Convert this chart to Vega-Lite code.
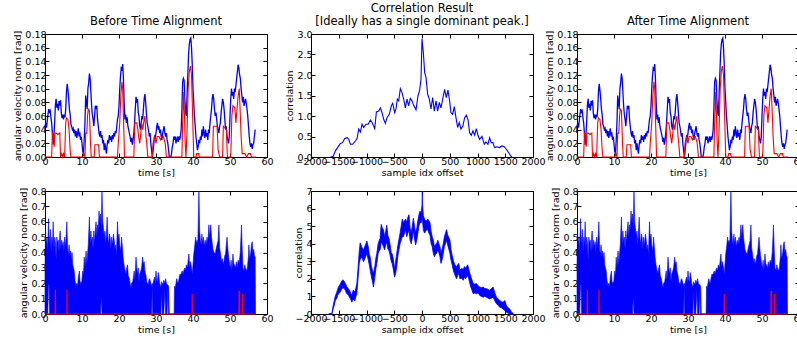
{
"$schema":"https://vega.github.io/schema/vega-lite/v6.json",
"padding":{"left":12,"top":2,"right":0,"bottom":0},
"background":"white",
"config":{
 "view":{"stroke":"black","strokeWidth":1},
 "axis":{"domain":false,"grid":false,"ticks":true,"tickColor":"black","tickSize":-4,"tickWidth":1,"labelColor":"black","labelFont":"DejaVu Sans","labelFontSize":9.5,"labelPadding":3,"labelFlush":false,"labelOverlap":false,"labelBound":false,"titleColor":"black","titleFont":"DejaVu Sans","titleFontSize":9.5,"titleFontWeight":"normal","titlePadding":2},
 "title":{"font":"DejaVu Sans","fontSize":11.5,"fontWeight":"normal","color":"black","offset":2,"anchor":"middle","lineHeight":12.5}
},
"datasets":{
"topBlue":[
{"t":0.0,"v":0.045},{"t":0.2,"v":0.05},{"t":0.4,"v":0.043},{"t":0.6,"v":0.052},{"t":0.8,"v":0.062},{"t":1.0,"v":0.07},{"t":1.2,"v":0.066},{"t":1.4,"v":0.068},{"t":1.6,"v":0.058},{"t":1.8,"v":0.05},{"t":2.0,"v":0.035},{"t":2.2,"v":0.018},{"t":2.4,"v":0.03},{"t":2.6,"v":0.05},{"t":2.8,"v":0.075},{"t":3.0,"v":0.085},{"t":3.2,"v":0.072},{"t":3.4,"v":0.078},{"t":3.6,"v":0.068},{"t":3.8,"v":0.082},{"t":4.0,"v":0.075},{"t":4.2,"v":0.083},{"t":4.4,"v":0.065},{"t":4.6,"v":0.057},{"t":4.8,"v":0.062},{"t":5.0,"v":0.055},{"t":5.2,"v":0.062},{"t":5.4,"v":0.058},{"t":5.6,"v":0.07},{"t":5.8,"v":0.095},{"t":6.0,"v":0.107},{"t":6.2,"v":0.098},{"t":6.4,"v":0.085},{"t":6.6,"v":0.07},{"t":6.8,"v":0.062},{"t":7.0,"v":0.048},{"t":7.2,"v":0.045},{"t":7.4,"v":0.04},{"t":7.6,"v":0.042},{"t":7.8,"v":0.035},{"t":8.0,"v":0.04},{"t":8.2,"v":0.03},{"t":8.4,"v":0.038},{"t":8.6,"v":0.028},{"t":8.8,"v":0.035},{"t":9.0,"v":0.042},{"t":9.2,"v":0.03},{"t":9.4,"v":0.036},{"t":9.6,"v":0.025},{"t":9.8,"v":0.03},{"t":10.0,"v":0.02},{"t":10.2,"v":0.008},{"t":10.4,"v":0.005},{"t":10.6,"v":0.025},{"t":10.8,"v":0.05},{"t":11.0,"v":0.09},{"t":11.2,"v":0.08},{"t":11.4,"v":0.07},{"t":11.6,"v":0.1},{"t":11.8,"v":0.108},{"t":12.0,"v":0.122},{"t":12.2,"v":0.115},{"t":12.4,"v":0.095},{"t":12.6,"v":0.075},{"t":12.8,"v":0.062},{"t":13.0,"v":0.055},{"t":13.2,"v":0.045},{"t":13.4,"v":0.06},{"t":13.6,"v":0.075},{"t":13.8,"v":0.07},{"t":14.0,"v":0.075},{"t":14.2,"v":0.055},{"t":14.4,"v":0.045},{"t":14.6,"v":0.035},{"t":14.8,"v":0.03},{"t":15.0,"v":0.038},{"t":15.2,"v":0.028},{"t":15.4,"v":0.032},{"t":15.6,"v":0.02},{"t":15.8,"v":0.025},{"t":16.0,"v":0.01},{"t":16.2,"v":0.02},{"t":16.4,"v":0.012},{"t":16.6,"v":0.005},{"t":16.8,"v":0.018},{"t":17.0,"v":0.025},{"t":17.2,"v":0.02},{"t":17.4,"v":0.032},{"t":17.6,"v":0.025},{"t":17.8,"v":0.03},{"t":18.0,"v":0.022},{"t":18.2,"v":0.032},{"t":18.4,"v":0.026},{"t":18.6,"v":0.035},{"t":18.8,"v":0.03},{"t":19.0,"v":0.038},{"t":19.2,"v":0.035},{"t":19.4,"v":0.045},{"t":19.6,"v":0.055},{"t":19.8,"v":0.06},{"t":20.0,"v":0.075},{"t":20.2,"v":0.1},{"t":20.4,"v":0.118},{"t":20.6,"v":0.13},{"t":20.8,"v":0.128},{"t":21.0,"v":0.136},{"t":21.2,"v":0.115},{"t":21.4,"v":0.08},{"t":21.6,"v":0.055},{"t":21.8,"v":0.062},{"t":22.0,"v":0.05},{"t":22.2,"v":0.058},{"t":22.4,"v":0.045},{"t":22.6,"v":0.04},{"t":22.8,"v":0.035},{"t":23.0,"v":0.03},{"t":23.2,"v":0.022},{"t":23.4,"v":0.028},{"t":23.6,"v":0.018},{"t":23.8,"v":0.025},{"t":24.0,"v":0.035},{"t":24.2,"v":0.05},{"t":24.4,"v":0.07},{"t":24.6,"v":0.088},{"t":24.8,"v":0.082},{"t":25.0,"v":0.085},{"t":25.2,"v":0.065},{"t":25.4,"v":0.06},{"t":25.6,"v":0.045},{"t":25.8,"v":0.04},{"t":26.0,"v":0.05},{"t":26.2,"v":0.06},{"t":26.4,"v":0.055},{"t":26.6,"v":0.07},{"t":26.8,"v":0.085},{"t":27.0,"v":0.092},{"t":27.2,"v":0.08},{"t":27.4,"v":0.065},{"t":27.6,"v":0.05},{"t":27.8,"v":0.045},{"t":28.0,"v":0.038},{"t":28.2,"v":0.03},{"t":28.4,"v":0.035},{"t":28.6,"v":0.02},{"t":28.8,"v":0.01},{"t":29.0,"v":0.0},{"t":29.2,"v":0.008},{"t":29.4,"v":0.02},{"t":29.6,"v":0.03},{"t":29.8,"v":0.028},{"t":30.0,"v":0.035},{"t":30.2,"v":0.045},{"t":30.4,"v":0.05},{"t":30.6,"v":0.04},{"t":30.8,"v":0.045},{"t":31.0,"v":0.035},{"t":31.2,"v":0.04},{"t":31.4,"v":0.03},{"t":31.6,"v":0.025},{"t":31.8,"v":0.035},{"t":32.0,"v":0.04},{"t":32.2,"v":0.045},{"t":32.4,"v":0.035},{"t":32.6,"v":0.03},{"t":32.8,"v":0.035},{"t":33.0,"v":0.025},{"t":33.2,"v":0.02},{"t":33.4,"v":0.01},{"t":33.6,"v":0.0},{"t":33.8,"v":0.0},{"t":34.0,"v":0.0},{"t":34.2,"v":0.005},{"t":34.4,"v":0.015},{"t":34.6,"v":0.02},{"t":34.8,"v":0.03},{"t":35.0,"v":0.025},{"t":35.2,"v":0.03},{"t":35.4,"v":0.02},{"t":35.6,"v":0.025},{"t":35.8,"v":0.03},{"t":36.0,"v":0.022},{"t":36.2,"v":0.03},{"t":36.4,"v":0.025},{"t":36.6,"v":0.03},{"t":36.8,"v":0.04},{"t":37.0,"v":0.07},{"t":37.2,"v":0.11},{"t":37.4,"v":0.115},{"t":37.6,"v":0.112},{"t":37.8,"v":0.085},{"t":38.0,"v":0.065},{"t":38.2,"v":0.06},{"t":38.4,"v":0.09},{"t":38.6,"v":0.12},{"t":38.8,"v":0.15},{"t":39.0,"v":0.165},{"t":39.2,"v":0.172},{"t":39.4,"v":0.174},{"t":39.6,"v":0.16},{"t":39.8,"v":0.135},{"t":40.0,"v":0.1},{"t":40.2,"v":0.08},{"t":40.4,"v":0.06},{"t":40.6,"v":0.045},{"t":40.8,"v":0.03},{"t":41.0,"v":0.02},{"t":41.2,"v":0.01},{"t":41.4,"v":0.015},{"t":41.6,"v":0.025},{"t":41.8,"v":0.02},{"t":42.0,"v":0.03},{"t":42.2,"v":0.025},{"t":42.4,"v":0.04},{"t":42.6,"v":0.03},{"t":42.8,"v":0.045},{"t":43.0,"v":0.035},{"t":43.2,"v":0.028},{"t":43.4,"v":0.04},{"t":43.6,"v":0.03},{"t":43.8,"v":0.035},{"t":44.0,"v":0.025},{"t":44.2,"v":0.04},{"t":44.4,"v":0.035},{"t":44.6,"v":0.05},{"t":44.8,"v":0.06},{"t":45.0,"v":0.07},{"t":45.2,"v":0.085},{"t":45.4,"v":0.092},{"t":45.6,"v":0.085},{"t":45.8,"v":0.07},{"t":46.0,"v":0.06},{"t":46.2,"v":0.065},{"t":46.4,"v":0.055},{"t":46.6,"v":0.045},{"t":46.8,"v":0.04},{"t":47.0,"v":0.035},{"t":47.2,"v":0.045},{"t":47.4,"v":0.05},{"t":47.6,"v":0.065},{"t":47.8,"v":0.075},{"t":48.0,"v":0.085},{"t":48.2,"v":0.08},{"t":48.4,"v":0.07},{"t":48.6,"v":0.055},{"t":48.8,"v":0.04},{"t":49.0,"v":0.045},{"t":49.2,"v":0.03},{"t":49.4,"v":0.025},{"t":49.6,"v":0.02},{"t":49.8,"v":0.03},{"t":50.0,"v":0.06},{"t":50.2,"v":0.085},{"t":50.4,"v":0.1},{"t":50.6,"v":0.09},{"t":50.8,"v":0.095},{"t":51.0,"v":0.085},{"t":51.2,"v":0.1},{"t":51.4,"v":0.095},{"t":51.6,"v":0.105},{"t":51.8,"v":0.115},{"t":52.0,"v":0.125},{"t":52.2,"v":0.135},{"t":52.4,"v":0.13},{"t":52.6,"v":0.12},{"t":52.8,"v":0.115},{"t":53.0,"v":0.1},{"t":53.2,"v":0.09},{"t":53.4,"v":0.08},{"t":53.6,"v":0.088},{"t":53.8,"v":0.075},{"t":54.0,"v":0.08},{"t":54.2,"v":0.085},{"t":54.4,"v":0.078},{"t":54.6,"v":0.07},{"t":54.8,"v":0.06},{"t":55.0,"v":0.045},{"t":55.2,"v":0.03},{"t":55.4,"v":0.02},{"t":55.6,"v":0.015},{"t":55.8,"v":0.02},{"t":56.0,"v":0.012},{"t":56.2,"v":0.018},{"t":56.4,"v":0.02},{"t":56.6,"v":0.03},{"t":56.8,"v":0.04}
],
"topRed":[
{"t":0,"v":0},{"t":1.8,"v":0},{"t":2.0,"v":0.035},{"t":2.3,"v":0.034},{"t":2.5,"v":0.015},{"t":2.7,"v":0.035},{"t":3.0,"v":0.035},{"t":3.5,"v":0.033},{"t":4.0,"v":0.035},{"t":4.2,"v":0.0},{"t":4.5,"v":0.005},{"t":4.8,"v":0.0},{"t":5.0,"v":0.005},{"t":5.3,"v":0.0},{"t":5.6,"v":0.05},{"t":5.8,"v":0.057},{"t":6.2,"v":0.055},{"t":6.5,"v":0.04},{"t":6.8,"v":0.01},{"t":7.0,"v":0.0},{"t":10.2,"v":0.0},{"t":10.5,"v":0.005},{"t":10.8,"v":0.0},{"t":11.0,"v":0.035},{"t":11.3,"v":0.035},{"t":11.5,"v":0.06},{"t":11.7,"v":0.07},{"t":12.0,"v":0.068},{"t":12.3,"v":0.02},{"t":12.5,"v":0.0},{"t":13.3,"v":0.0},{"t":13.5,"v":0.018},{"t":14.5,"v":0.018},{"t":14.7,"v":0.0},{"t":19.6,"v":0.0},{"t":19.8,"v":0.02},{"t":20.2,"v":0.05},{"t":20.5,"v":0.09},{"t":20.8,"v":0.11},{"t":21.0,"v":0.1},{"t":21.2,"v":0.06},{"t":21.5,"v":0.0},{"t":24.0,"v":0.0},{"t":24.3,"v":0.05},{"t":24.8,"v":0.05},{"t":25.1,"v":0.04},{"t":25.3,"v":0.03},{"t":25.6,"v":0.02},{"t":25.9,"v":0.035},{"t":26.1,"v":0.05},{"t":26.4,"v":0.04},{"t":26.8,"v":0.055},{"t":27.0,"v":0.06},{"t":27.3,"v":0.03},{"t":27.5,"v":0.02},{"t":27.8,"v":0.0},{"t":29.0,"v":0.0},{"t":29.2,"v":0.02},{"t":29.6,"v":0.03},{"t":30.0,"v":0.02},{"t":30.3,"v":0.03},{"t":30.8,"v":0.03},{"t":31.2,"v":0.025},{"t":31.6,"v":0.03},{"t":32.0,"v":0.03},{"t":32.5,"v":0.02},{"t":32.8,"v":0.0},{"t":37.0,"v":0.0},{"t":37.2,"v":0.05},{"t":37.5,"v":0.095},{"t":37.7,"v":0.06},{"t":37.9,"v":0.02},{"t":38.1,"v":0.0},{"t":38.4,"v":0.04},{"t":38.7,"v":0.1},{"t":39.0,"v":0.125},{"t":39.3,"v":0.133},{"t":39.6,"v":0.12},{"t":39.8,"v":0.08},{"t":40.0,"v":0.04},{"t":40.2,"v":0.0},{"t":40.8,"v":0.0},{"t":41.0,"v":0.005},{"t":41.5,"v":0.005},{"t":41.7,"v":0.0},{"t":45.3,"v":0.0},{"t":45.5,"v":0.045},{"t":46.5,"v":0.045},{"t":46.8,"v":0.01},{"t":47.2,"v":0.0},{"t":48.0,"v":0.0},{"t":48.2,"v":0.045},{"t":49.0,"v":0.04},{"t":49.3,"v":0.0},{"t":50.2,"v":0.0},{"t":50.5,"v":0.06},{"t":50.8,"v":0.075},{"t":51.3,"v":0.072},{"t":51.6,"v":0.05},{"t":51.9,"v":0.07},{"t":52.2,"v":0.09},{"t":52.5,"v":0.1},{"t":52.8,"v":0.06},{"t":53.0,"v":0.03},{"t":53.3,"v":0.005},{"t":54.0,"v":0.005},{"t":54.5,"v":0.0},{"t":55.0,"v":0.005},{"t":55.5,"v":0.005},{"t":55.8,"v":0.0},{"t":57.0,"v":0.0}
],
"corrTop":[
{"o":-1650,"c":0},{"o":-1600,"c":0.02},{"o":-1560,"c":0.15},{"o":-1500,"c":0.27},{"o":-1470,"c":0.33},{"o":-1430,"c":0.35},{"o":-1392,"c":0.45},{"o":-1350,"c":0.47},{"o":-1320,"c":0.43},{"o":-1290,"c":0.31},{"o":-1250,"c":0.31},{"o":-1200,"c":0.39},{"o":-1170,"c":0.45},{"o":-1140,"c":0.68},{"o":-1110,"c":0.61},{"o":-1080,"c":0.8},{"o":-1050,"c":0.72},{"o":-1010,"c":0.8},{"o":-970,"c":0.8},{"o":-930,"c":0.9},{"o":-900,"c":0.84},{"o":-852,"c":0.69},{"o":-822,"c":1.1},{"o":-780,"c":1.12},{"o":-750,"c":1.2},{"o":-720,"c":1.08},{"o":-690,"c":0.92},{"o":-660,"c":0.82},{"o":-630,"c":0.96},{"o":-590,"c":1.04},{"o":-552,"c":1.25},{"o":-528,"c":1.31},{"o":-492,"c":1.08},{"o":-468,"c":1.18},{"o":-444,"c":1.41},{"o":-420,"c":1.37},{"o":-390,"c":1.67},{"o":-360,"c":1.57},{"o":-330,"c":1.41},{"o":-300,"c":1.2},{"o":-270,"c":1.41},{"o":-240,"c":1.25},{"o":-210,"c":1.43},{"o":-180,"c":1.37},{"o":-150,"c":1.26},{"o":-108,"c":1.15},{"o":-72,"c":1.49},{"o":-42,"c":1.63},{"o":-18,"c":1.9},{"o":0,"c":2.88},{"o":24,"c":2.55},{"o":48,"c":2.06},{"o":72,"c":1.94},{"o":102,"c":1.53},{"o":132,"c":1.41},{"o":162,"c":1.17},{"o":192,"c":1.45},{"o":222,"c":1.12},{"o":252,"c":1.37},{"o":282,"c":1.12},{"o":312,"c":1.33},{"o":342,"c":1.2},{"o":378,"c":1.45},{"o":408,"c":1.65},{"o":438,"c":1.45},{"o":468,"c":1.63},{"o":498,"c":1.37},{"o":522,"c":1.08},{"o":552,"c":1.04},{"o":582,"c":1.23},{"o":612,"c":0.96},{"o":642,"c":0.72},{"o":672,"c":0.84},{"o":702,"c":0.68},{"o":738,"c":0.76},{"o":768,"c":0.96},{"o":798,"c":1.02},{"o":828,"c":0.92},{"o":858,"c":0.59},{"o":888,"c":0.53},{"o":918,"c":0.64},{"o":948,"c":0.53},{"o":978,"c":0.69},{"o":1008,"c":0.53},{"o":1038,"c":0.43},{"o":1080,"c":0.5},{"o":1122,"c":0.31},{"o":1152,"c":0.37},{"o":1188,"c":0.31},{"o":1218,"c":0.47},{"o":1248,"c":0.35},{"o":1278,"c":0.35},{"o":1308,"c":0.23},{"o":1350,"c":0.25},{"o":1398,"c":0.23},{"o":1440,"c":0.27},{"o":1482,"c":0.25},{"o":1518,"c":0.19},{"o":1560,"c":0.11},{"o":1602,"c":0.02},{"o":1620,"c":0}
],
"corrBot":[
{"o":-1683,"lo":0,"hi":0},{"o":-1623,"lo":0,"hi":0.04},{"o":-1600,"lo":0.3,"hi":0.5},{"o":-1581,"lo":0.5,"hi":0.75},{"o":-1560,"lo":0.8,"hi":1.05},{"o":-1540,"lo":0.85,"hi":1.2},{"o":-1520,"lo":1.05,"hi":1.4},{"o":-1503,"lo":1.15,"hi":1.55},{"o":-1473,"lo":1.25,"hi":1.7},{"o":-1450,"lo":1.4,"hi":1.85},{"o":-1425,"lo":1.5,"hi":1.95},{"o":-1400,"lo":1.45,"hi":1.85},{"o":-1383,"lo":1.35,"hi":1.75},{"o":-1354,"lo":1.15,"hi":1.55},{"o":-1330,"lo":1.1,"hi":1.45},{"o":-1306,"lo":0.95,"hi":1.35},{"o":-1280,"lo":0.8,"hi":1.15},{"o":-1264,"lo":0.67,"hi":1.05},{"o":-1240,"lo":0.85,"hi":1.35},{"o":-1210,"lo":0.75,"hi":1.25},{"o":-1190,"lo":1.0,"hi":1.5},{"o":-1174,"lo":1.15,"hi":1.75},{"o":-1150,"lo":2.1,"hi":2.7},{"o":-1130,"lo":2.9,"hi":3.6},{"o":-1114,"lo":3.1,"hi":4.05},{"o":-1090,"lo":3.25,"hi":3.85},{"o":-1070,"lo":3.1,"hi":3.7},{"o":-1054,"lo":2.98,"hi":3.65},{"o":-1030,"lo":3.15,"hi":3.85},{"o":-1010,"lo":3.3,"hi":4.0},{"o":-994,"lo":3.46,"hi":4.15},{"o":-970,"lo":3.1,"hi":3.85},{"o":-950,"lo":2.8,"hi":3.4},{"o":-934,"lo":2.5,"hi":3.25},{"o":-910,"lo":2.1,"hi":2.7},{"o":-890,"lo":1.8,"hi":2.45},{"o":-874,"lo":1.53,"hi":2.3},{"o":-850,"lo":2.1,"hi":2.7},{"o":-830,"lo":2.6,"hi":3.2},{"o":-814,"lo":2.88,"hi":3.45},{"o":-790,"lo":3.45,"hi":4.0},{"o":-770,"lo":3.6,"hi":4.2},{"o":-755,"lo":3.65,"hi":4.3},{"o":-735,"lo":4.1,"hi":5.1},{"o":-715,"lo":4.0,"hi":4.9},{"o":-695,"lo":3.84,"hi":4.8},{"o":-675,"lo":3.65,"hi":4.4},{"o":-655,"lo":3.9,"hi":4.7},{"o":-635,"lo":4.13,"hi":5.05},{"o":-615,"lo":3.7,"hi":4.45},{"o":-595,"lo":3.6,"hi":4.3},{"o":-575,"lo":3.36,"hi":3.95},{"o":-555,"lo":3.0,"hi":3.5},{"o":-535,"lo":2.85,"hi":3.4},{"o":-515,"lo":2.5,"hi":3.1},{"o":-495,"lo":2.1,"hi":2.55},{"o":-475,"lo":2.3,"hi":3.0},{"o":-455,"lo":2.7,"hi":3.45},{"o":-435,"lo":3.3,"hi":3.9},{"o":-415,"lo":3.65,"hi":4.25},{"o":-395,"lo":4.0,"hi":4.6},{"o":-375,"lo":4.2,"hi":5.0},{"o":-355,"lo":4.4,"hi":5.4},{"o":-335,"lo":4.4,"hi":5.2},{"o":-315,"lo":4.6,"hi":5.3},{"o":-295,"lo":4.8,"hi":5.4},{"o":-275,"lo":4.4,"hi":5.2},{"o":-255,"lo":4.6,"hi":5.5},{"o":-235,"lo":4.8,"hi":5.65},{"o":-215,"lo":4.2,"hi":4.9},{"o":-195,"lo":4.0,"hi":4.6},{"o":-175,"lo":4.3,"hi":5.0},{"o":-155,"lo":4.8,"hi":5.45},{"o":-135,"lo":4.3,"hi":5.0},{"o":-115,"lo":3.93,"hi":4.6},{"o":-95,"lo":4.2,"hi":4.85},{"o":-75,"lo":4.6,"hi":5.3},{"o":-55,"lo":5.0,"hi":5.65},{"o":-36,"lo":5.2,"hi":5.85},{"o":-15,"lo":5.2,"hi":5.75},{"o":0,"lo":5.4,"hi":6.2},{"o":6,"lo":5.6,"hi":7.0},{"o":12,"lo":5.2,"hi":6.2},{"o":24,"lo":4.8,"hi":5.6},{"o":45,"lo":4.6,"hi":5.4},{"o":64,"lo":4.7,"hi":5.3},{"o":84,"lo":4.8,"hi":5.3},{"o":104,"lo":4.8,"hi":5.4},{"o":124,"lo":4.6,"hi":5.3},{"o":144,"lo":4.5,"hi":5.2},{"o":164,"lo":4.0,"hi":4.7},{"o":184,"lo":3.84,"hi":4.4},{"o":204,"lo":3.45,"hi":4.2},{"o":224,"lo":3.26,"hi":3.84},{"o":244,"lo":3.4,"hi":3.95},{"o":264,"lo":3.45,"hi":4.0},{"o":284,"lo":3.65,"hi":4.2},{"o":304,"lo":3.5,"hi":4.0},{"o":323,"lo":3.26,"hi":3.84},{"o":343,"lo":2.88,"hi":3.45},{"o":363,"lo":3.1,"hi":3.7},{"o":383,"lo":3.45,"hi":4.0},{"o":403,"lo":3.84,"hi":4.4},{"o":423,"lo":4.0,"hi":4.6},{"o":443,"lo":4.2,"hi":4.8},{"o":463,"lo":3.93,"hi":4.5},{"o":483,"lo":3.7,"hi":4.35},{"o":503,"lo":3.45,"hi":4.2},{"o":523,"lo":3.07,"hi":3.65},{"o":543,"lo":2.8,"hi":3.35},{"o":563,"lo":2.5,"hi":3.07},{"o":583,"lo":2.3,"hi":2.88},{"o":603,"lo":2.15,"hi":2.75},{"o":623,"lo":2.0,"hi":2.7},{"o":643,"lo":2.2,"hi":2.8},{"o":663,"lo":2.3,"hi":2.88},{"o":683,"lo":2.0,"hi":2.5},{"o":703,"lo":2.05,"hi":2.55},{"o":723,"lo":2.0,"hi":2.6},{"o":743,"lo":1.92,"hi":2.5},{"o":763,"lo":2.1,"hi":2.7},{"o":783,"lo":2.0,"hi":2.6},{"o":803,"lo":2.1,"hi":2.7},{"o":823,"lo":2.2,"hi":2.8},{"o":843,"lo":2.0,"hi":2.55},{"o":863,"lo":1.73,"hi":2.3},{"o":883,"lo":1.5,"hi":2.1},{"o":903,"lo":1.34,"hi":1.92},{"o":922,"lo":1.15,"hi":1.73},{"o":952,"lo":1.2,"hi":1.7},{"o":982,"lo":1.15,"hi":1.73},{"o":1012,"lo":1.2,"hi":1.6},{"o":1042,"lo":1.05,"hi":1.53},{"o":1072,"lo":1.0,"hi":1.5},{"o":1102,"lo":0.96,"hi":1.53},{"o":1132,"lo":1.0,"hi":1.45},{"o":1162,"lo":0.96,"hi":1.44},{"o":1192,"lo":0.9,"hi":1.4},{"o":1222,"lo":0.86,"hi":1.34},{"o":1252,"lo":0.9,"hi":1.45},{"o":1282,"lo":0.96,"hi":1.53},{"o":1312,"lo":0.75,"hi":1.2},{"o":1342,"lo":0.58,"hi":0.96},{"o":1372,"lo":0.5,"hi":0.85},{"o":1402,"lo":0.38,"hi":0.77},{"o":1432,"lo":0.35,"hi":0.7},{"o":1462,"lo":0.29,"hi":0.67},{"o":1491,"lo":0.19,"hi":0.77},{"o":1521,"lo":0.1,"hi":0.48},{"o":1551,"lo":0.05,"hi":0.35},{"o":1581,"lo":0,"hi":0.29},{"o":1610,"lo":0,"hi":0.12},{"o":1641,"lo":0,"hi":0.04}
],
"botBlue":[
{"t":0.0,"lo":0,"hi":0.3},{"t":0.15,"lo":0,"hi":0.54},{"t":0.35,"lo":0,"hi":0.45},{"t":0.55,"lo":0,"hi":0.5},{"t":0.75,"lo":0,"hi":0.4},{"t":0.95,"lo":0.19,"hi":0.62},{"t":1.1,"lo":0.19,"hi":0.5},{"t":1.25,"lo":0,"hi":0.45},{"t":1.45,"lo":0,"hi":0.55},{"t":1.65,"lo":0,"hi":0.4},{"t":1.85,"lo":0,"hi":0.5},{"t":2.05,"lo":0,"hi":0.45},{"t":2.2,"lo":0,"hi":0.6},{"t":2.4,"lo":0,"hi":0.42},{"t":2.6,"lo":0,"hi":0.5},{"t":2.8,"lo":0,"hi":0.47},{"t":3.0,"lo":0,"hi":0.35},{"t":3.2,"lo":0,"hi":0.5},{"t":3.4,"lo":0,"hi":0.46},{"t":3.6,"lo":0,"hi":0.48},{"t":3.8,"lo":0,"hi":0.4},{"t":4.0,"lo":0,"hi":0.52},{"t":4.1,"lo":0,"hi":0.54},{"t":4.3,"lo":0,"hi":0.42},{"t":4.5,"lo":0,"hi":0.48},{"t":4.7,"lo":0,"hi":0.44},{"t":4.9,"lo":0,"hi":0.47},{"t":5.1,"lo":0,"hi":0.4},{"t":5.3,"lo":0,"hi":0.5},{"t":5.5,"lo":0,"hi":0.43},{"t":5.75,"lo":0,"hi":0.52},{"t":5.9,"lo":0,"hi":0.6},{"t":6.1,"lo":0,"hi":0.43},{"t":6.3,"lo":0,"hi":0.38},{"t":6.5,"lo":0,"hi":0.45},{"t":6.7,"lo":0,"hi":0.38},{"t":6.9,"lo":0,"hi":0.41},{"t":7.1,"lo":0,"hi":0.35},{"t":7.3,"lo":0,"hi":0.4},{"t":7.5,"lo":0,"hi":0.32},{"t":7.7,"lo":0,"hi":0.3},{"t":7.9,"lo":0,"hi":0.28},{"t":8.1,"lo":0,"hi":0.22},{"t":8.4,"lo":0,"hi":0.18},{"t":8.6,"lo":0,"hi":0.2},{"t":8.8,"lo":0,"hi":0.18},{"t":9.0,"lo":0,"hi":0.24},{"t":9.3,"lo":0,"hi":0.28},{"t":9.5,"lo":0,"hi":0.19},{"t":9.7,"lo":0,"hi":0.21},{"t":9.9,"lo":0,"hi":0.2},{"t":10.2,"lo":0,"hi":0.28},{"t":10.4,"lo":0,"hi":0.25},{"t":10.6,"lo":0,"hi":0.37},{"t":10.8,"lo":0,"hi":0.3},{"t":11.1,"lo":0,"hi":0.41},{"t":11.3,"lo":0,"hi":0.32},{"t":11.5,"lo":0,"hi":0.39},{"t":11.7,"lo":0,"hi":0.45},{"t":12.0,"lo":0,"hi":0.63},{"t":12.2,"lo":0,"hi":0.45},{"t":12.4,"lo":0,"hi":0.54},{"t":12.6,"lo":0,"hi":0.47},{"t":12.8,"lo":0,"hi":0.5},{"t":13.0,"lo":0,"hi":0.42},{"t":13.2,"lo":0,"hi":0.54},{"t":13.4,"lo":0,"hi":0.46},{"t":13.6,"lo":0,"hi":0.55},{"t":13.8,"lo":0,"hi":0.6},{"t":14.0,"lo":0,"hi":0.5},{"t":14.2,"lo":0,"hi":0.58},{"t":14.4,"lo":0,"hi":0.55},{"t":14.6,"lo":0,"hi":0.67},{"t":14.8,"lo":0,"hi":0.6},{"t":15.0,"lo":0,"hi":0.65},{"t":15.2,"lo":0.12,"hi":0.55},{"t":15.4,"lo":0,"hi":0.8},{"t":15.6,"lo":0,"hi":0.6},{"t":15.8,"lo":0,"hi":0.56},{"t":16.0,"lo":0,"hi":0.5},{"t":16.2,"lo":0,"hi":0.54},{"t":16.4,"lo":0,"hi":0.45},{"t":16.6,"lo":0,"hi":0.52},{"t":16.8,"lo":0,"hi":0.63},{"t":17.0,"lo":0,"hi":0.5},{"t":17.2,"lo":0,"hi":0.45},{"t":17.4,"lo":0,"hi":0.52},{"t":17.6,"lo":0,"hi":0.5},{"t":17.8,"lo":0,"hi":0.42},{"t":18.0,"lo":0,"hi":0.5},{"t":18.2,"lo":0,"hi":0.45},{"t":18.5,"lo":0,"hi":0.52},{"t":18.7,"lo":0,"hi":0.48},{"t":18.9,"lo":0,"hi":0.42},{"t":19.1,"lo":0,"hi":0.45},{"t":19.3,"lo":0,"hi":0.38},{"t":19.6,"lo":0,"hi":0.6},{"t":19.8,"lo":0,"hi":0.48},{"t":20.0,"lo":0,"hi":0.52},{"t":20.2,"lo":0,"hi":0.45},{"t":20.5,"lo":0,"hi":0.41},{"t":20.7,"lo":0,"hi":0.5},{"t":20.9,"lo":0,"hi":0.44},{"t":21.1,"lo":0,"hi":0.37},{"t":21.3,"lo":0,"hi":0.33},{"t":21.5,"lo":0,"hi":0.3},{"t":21.7,"lo":0,"hi":0.28},{"t":21.9,"lo":0,"hi":0.26},{"t":22.1,"lo":0,"hi":0.3},{"t":22.3,"lo":0,"hi":0.32},{"t":22.5,"lo":0,"hi":0.25},{"t":22.8,"lo":0,"hi":0.23},{"t":23.0,"lo":0,"hi":0.2},{"t":23.2,"lo":0,"hi":0.17},{"t":23.4,"lo":0,"hi":0.2},{"t":23.7,"lo":0,"hi":0.21},{"t":23.9,"lo":0,"hi":0.24},{"t":24.1,"lo":0,"hi":0.28},{"t":24.3,"lo":0,"hi":0.22},{"t":24.6,"lo":0,"hi":0.37},{"t":24.8,"lo":0,"hi":0.3},{"t":25.0,"lo":0,"hi":0.26},{"t":25.2,"lo":0,"hi":0.3},{"t":25.4,"lo":0,"hi":0.21},{"t":25.6,"lo":0,"hi":0.26},{"t":25.9,"lo":0,"hi":0.28},{"t":26.1,"lo":0,"hi":0.3},{"t":26.4,"lo":0,"hi":0.37},{"t":26.6,"lo":0,"hi":0.32},{"t":26.8,"lo":0,"hi":0.34},{"t":27.0,"lo":0,"hi":0.28},{"t":27.3,"lo":0,"hi":0.25},{"t":27.5,"lo":0,"hi":0.21},{"t":27.7,"lo":0,"hi":0.2},{"t":27.9,"lo":0,"hi":0.19},{"t":28.1,"lo":0,"hi":0.22},{"t":28.3,"lo":0,"hi":0.23},{"t":28.6,"lo":0,"hi":0.2},{"t":28.8,"lo":0,"hi":0.18},{"t":29.0,"lo":0.18,"hi":0.2},{"t":29.1,"lo":0,"hi":0.17},{"t":29.3,"lo":0,"hi":0.21},{"t":29.6,"lo":0,"hi":0.24},{"t":29.8,"lo":0,"hi":0.2},{"t":30.0,"lo":0,"hi":0.28},{"t":30.2,"lo":0,"hi":0.22},{"t":30.4,"lo":0,"hi":0.21},{"t":30.6,"lo":0,"hi":0.27},{"t":30.8,"lo":0,"hi":0.24},{"t":31.0,"lo":0,"hi":0.2},{"t":31.3,"lo":0,"hi":0.17},{"t":31.5,"lo":0.15,"hi":0.21},{"t":31.7,"lo":0,"hi":0.2},{"t":31.9,"lo":0,"hi":0.19},{"t":32.1,"lo":0,"hi":0.22},{"t":32.4,"lo":0.16,"hi":0.2},{"t":32.6,"lo":0,"hi":0.23},{"t":32.8,"lo":0,"hi":0.2},{"t":33.0,"lo":0,"hi":0.19},{"t":33.2,"lo":0.17,"hi":0.19},{"t":33.4,"lo":0,"hi":0.18},{"t":33.6,"lo":0,"hi":0.0},{"t":34.9,"lo":0,"hi":0.0},{"t":35.0,"lo":0,"hi":0.18},{"t":35.2,"lo":0,"hi":0.17},{"t":35.4,"lo":0,"hi":0.2},{"t":35.6,"lo":0,"hi":0.23},{"t":35.8,"lo":0,"hi":0.21},{"t":36.0,"lo":0,"hi":0.2},{"t":36.3,"lo":0,"hi":0.24},{"t":36.5,"lo":0,"hi":0.26},{"t":36.7,"lo":0,"hi":0.25},{"t":36.9,"lo":0,"hi":0.27},{"t":37.1,"lo":0,"hi":0.28},{"t":37.3,"lo":0,"hi":0.26},{"t":37.6,"lo":0,"hi":0.29},{"t":37.8,"lo":0,"hi":0.3},{"t":38.0,"lo":0,"hi":0.28},{"t":38.2,"lo":0,"hi":0.32},{"t":38.5,"lo":0,"hi":0.3},{"t":38.7,"lo":0,"hi":0.35},{"t":38.9,"lo":0,"hi":0.39},{"t":39.1,"lo":0,"hi":0.3},{"t":39.3,"lo":0,"hi":0.34},{"t":39.6,"lo":0,"hi":0.3},{"t":39.8,"lo":0,"hi":0.26},{"t":40.0,"lo":0,"hi":0.32},{"t":40.2,"lo":0,"hi":0.39},{"t":40.5,"lo":0,"hi":0.45},{"t":40.7,"lo":0,"hi":0.5},{"t":40.9,"lo":0,"hi":0.46},{"t":41.1,"lo":0,"hi":0.48},{"t":41.3,"lo":0,"hi":0.45},{"t":41.6,"lo":0,"hi":0.8},{"t":41.8,"lo":0,"hi":0.54},{"t":42.0,"lo":0,"hi":0.48},{"t":42.2,"lo":0,"hi":0.45},{"t":42.4,"lo":0,"hi":0.52},{"t":42.6,"lo":0,"hi":0.46},{"t":42.8,"lo":0,"hi":0.5},{"t":43.0,"lo":0,"hi":0.44},{"t":43.3,"lo":0,"hi":0.48},{"t":43.5,"lo":0,"hi":0.45},{"t":43.8,"lo":0,"hi":0.5},{"t":44.0,"lo":0,"hi":0.46},{"t":44.3,"lo":0,"hi":0.58},{"t":44.5,"lo":0,"hi":0.5},{"t":44.8,"lo":0,"hi":0.58},{"t":45.0,"lo":0,"hi":0.5},{"t":45.2,"lo":0,"hi":0.46},{"t":45.4,"lo":0,"hi":0.42},{"t":45.7,"lo":0,"hi":0.4},{"t":46.0,"lo":0,"hi":0.39},{"t":46.2,"lo":0,"hi":0.42},{"t":46.5,"lo":0,"hi":0.45},{"t":46.8,"lo":0,"hi":0.48},{"t":47.0,"lo":0,"hi":0.58},{"t":47.2,"lo":0,"hi":0.43},{"t":47.5,"lo":0,"hi":0.38},{"t":47.7,"lo":0,"hi":0.34},{"t":47.9,"lo":0,"hi":0.36},{"t":48.2,"lo":0,"hi":0.32},{"t":48.4,"lo":0,"hi":0.35},{"t":48.6,"lo":0,"hi":0.38},{"t":48.8,"lo":0,"hi":0.39},{"t":49.0,"lo":0,"hi":0.45},{"t":49.2,"lo":0,"hi":0.5},{"t":49.4,"lo":0,"hi":0.43},{"t":49.6,"lo":0,"hi":0.38},{"t":49.9,"lo":0,"hi":0.32},{"t":50.1,"lo":0,"hi":0.3},{"t":50.3,"lo":0,"hi":0.35},{"t":50.5,"lo":0,"hi":0.28},{"t":50.8,"lo":0,"hi":0.39},{"t":51.0,"lo":0,"hi":0.33},{"t":51.2,"lo":0,"hi":0.32},{"t":51.5,"lo":0,"hi":0.3},{"t":51.7,"lo":0,"hi":0.34},{"t":51.9,"lo":0,"hi":0.3},{"t":52.2,"lo":0,"hi":0.35},{"t":52.5,"lo":0,"hi":0.33},{"t":52.8,"lo":0,"hi":0.41},{"t":53.1,"lo":0,"hi":0.58},{"t":53.3,"lo":0,"hi":0.42},{"t":53.5,"lo":0,"hi":0.3},{"t":53.8,"lo":0,"hi":0.28},{"t":54.0,"lo":0,"hi":0.32},{"t":54.2,"lo":0,"hi":0.3},{"t":54.5,"lo":0,"hi":0.28},{"t":54.7,"lo":0,"hi":0.3},{"t":55.0,"lo":0,"hi":0.38},{"t":55.1,"lo":0,"hi":0.45},{"t":55.3,"lo":0,"hi":0.36},{"t":55.6,"lo":0,"hi":0.4},{"t":55.8,"lo":0,"hi":0.45},{"t":56.0,"lo":0,"hi":0.47},{"t":56.2,"lo":0,"hi":0.4},{"t":56.4,"lo":0,"hi":0.42},{"t":56.6,"lo":0,"hi":0.38},{"t":56.8,"lo":0,"hi":0.37},{"t":56.9,"lo":0,"hi":0.0}
],
"botRed":[
{"t":0,"v":0},{"t":2.75,"v":0},{"t":2.8,"v":0.157},{"t":2.85,"v":0},{"t":5.9,"v":0},{"t":5.95,"v":0.157},{"t":6.0,"v":0},{"t":39.75,"v":0},{"t":39.8,"v":0.13},{"t":39.85,"v":0},{"t":52.4,"v":0},{"t":52.45,"v":0.147},{"t":52.55,"v":0.147},{"t":52.6,"v":0},{"t":53.35,"v":0},{"t":53.4,"v":0.13},{"t":53.45,"v":0},{"t":56.9,"v":0}
]
},
"bounds":"flush",
"columns":3,
"spacing":{"row":34,"column":44},
"concat":[
{
 "width":222,"height":123,
 "title":{"text":"Before Time Alignment"},
 "layer":[
  {"data":{"name":"topBlue"},"mark":{"type":"line","color":"#0000ff","strokeWidth":1.3},
   "encoding":{"x":{"field":"t","type":"quantitative","scale":{"domain":[0,60],"nice":false},"axis":{"values":[0,10,20,30,40,50,60],"format":"d","title":"time [s]"}},
               "y":{"field":"v","type":"quantitative","scale":{"domain":[0,0.18],"nice":false},"axis":{"values":[0,0.02,0.04,0.06,0.08,0.1,0.12,0.14,0.16,0.18],"format":".2f","title":"angular velocity norm [rad]"}}}},
  {"data":{"name":"topRed"},"mark":{"type":"line","color":"#ff0000","strokeWidth":1.1},
   "encoding":{"x":{"field":"t","type":"quantitative","axis":{"orient":"top","values":[0,10,20,30,40,50,60],"labels":false,"title":null}},
               "y":{"field":"v","type":"quantitative","axis":{"orient":"right","values":[0,0.02,0.04,0.06,0.08,0.1,0.12,0.14,0.16,0.18],"labels":false,"title":null}}}}
 ],
 "resolve":{"axis":{"x":"independent","y":"independent"}}
},
{
 "width":222,"height":123,
 "title":{"text":["Correlation Result","[Ideally has a single dominant peak.]"]},
 "layer":[
  {"data":{"name":"corrTop"},"mark":{"type":"line","color":"#0000ff","strokeWidth":1.1},
   "encoding":{"x":{"field":"o","type":"quantitative","scale":{"domain":[-2000,2000],"nice":false},"axis":{"values":[-2000,-1500,-1000,-500,0,500,1000,1500,2000],"format":"d","title":"sample idx offset"}},
               "y":{"field":"c","type":"quantitative","scale":{"domain":[0,3],"nice":false},"axis":{"values":[0,0.5,1,1.5,2,2.5,3],"format":".1f","title":"correlation"}}}},
  {"data":{"name":"corrTop"},"mark":{"type":"line","opacity":0},
   "encoding":{"x":{"field":"o","type":"quantitative","axis":{"orient":"top","values":[-2000,-1500,-1000,-500,0,500,1000,1500,2000],"labels":false,"title":null}},
               "y":{"field":"c","type":"quantitative","axis":{"orient":"right","values":[0,0.5,1,1.5,2,2.5,3],"labels":false,"title":null}}}}
 ],
 "resolve":{"axis":{"x":"independent","y":"independent"}}
},
{
 "width":222,"height":123,
 "title":{"text":"After Time Alignment"},
 "layer":[
  {"data":{"name":"topBlue"},"mark":{"type":"line","color":"#0000ff","strokeWidth":1.3},
   "encoding":{"x":{"field":"t","type":"quantitative","scale":{"domain":[0,60],"nice":false},"axis":{"values":[0,10,20,30,40,50,60],"format":"d","title":"time [s]"}},
               "y":{"field":"v","type":"quantitative","scale":{"domain":[0,0.18],"nice":false},"axis":{"values":[0,0.02,0.04,0.06,0.08,0.1,0.12,0.14,0.16,0.18],"format":".2f","title":"angular velocity norm [rad]"}}}},
  {"data":{"name":"topRed"},"mark":{"type":"line","color":"#ff0000","strokeWidth":1.1},
   "encoding":{"x":{"field":"t","type":"quantitative","axis":{"orient":"top","values":[0,10,20,30,40,50,60],"labels":false,"title":null}},
               "y":{"field":"v","type":"quantitative","axis":{"orient":"right","values":[0,0.02,0.04,0.06,0.08,0.1,0.12,0.14,0.16,0.18],"labels":false,"title":null}}}}
 ],
 "resolve":{"axis":{"x":"independent","y":"independent"}}
},
{
 "width":222,"height":123,
 "layer":[
  {"data":{"name":"botBlue"},"mark":{"type":"area","color":"#0000ff","stroke":"#0000ff","strokeWidth":0.6,"orient":"vertical"},
   "encoding":{"x":{"field":"t","type":"quantitative","scale":{"domain":[0,60],"nice":false},"axis":{"values":[0,10,20,30,40,50,60],"format":"d","title":"time [s]"}},
               "y":{"field":"lo","type":"quantitative","scale":{"domain":[0,0.8],"nice":false},"axis":{"values":[0,0.1,0.2,0.3,0.4,0.5,0.6,0.7,0.8],"format":".1f","title":"angular velocity norm [rad]"}},
               "y2":{"field":"hi"}}},
  {"data":{"name":"botRed"},"mark":{"type":"line","color":"#ff0000","strokeWidth":1.2},
   "encoding":{"x":{"field":"t","type":"quantitative","axis":{"orient":"top","values":[0,10,20,30,40,50,60],"labels":false,"title":null}},
               "y":{"field":"v","type":"quantitative","axis":{"orient":"right","values":[0,0.1,0.2,0.3,0.4,0.5,0.6,0.7,0.8],"labels":false,"title":null}}}}
 ],
 "resolve":{"axis":{"x":"independent","y":"independent"}}
},
{
 "width":222,"height":123,
 "layer":[
  {"data":{"name":"corrBot"},"mark":{"type":"area","color":"#0000ff","stroke":"#0000ff","strokeWidth":0.8,"orient":"vertical"},
   "encoding":{"x":{"field":"o","type":"quantitative","scale":{"domain":[-2000,2000],"nice":false},"axis":{"values":[-2000,-1500,-1000,-500,0,500,1000,1500,2000],"format":"d","title":"sample idx offset"}},
               "y":{"field":"lo","type":"quantitative","scale":{"domain":[0,7],"nice":false},"axis":{"values":[0,1,2,3,4,5,6,7],"format":"d","title":"correlation"}},
               "y2":{"field":"hi"}}},
  {"data":{"name":"corrBot"},"mark":{"type":"line","opacity":0},
   "encoding":{"x":{"field":"o","type":"quantitative","axis":{"orient":"top","values":[-2000,-1500,-1000,-500,0,500,1000,1500,2000],"labels":false,"title":null}},
               "y":{"field":"hi","type":"quantitative","axis":{"orient":"right","values":[0,1,2,3,4,5,6,7],"labels":false,"title":null}}}}
 ],
 "resolve":{"axis":{"x":"independent","y":"independent"}}
},
{
 "width":222,"height":123,
 "layer":[
  {"data":{"name":"botBlue"},"mark":{"type":"area","color":"#0000ff","stroke":"#0000ff","strokeWidth":0.6,"orient":"vertical"},
   "encoding":{"x":{"field":"t","type":"quantitative","scale":{"domain":[0,60],"nice":false},"axis":{"values":[0,10,20,30,40,50,60],"format":"d","title":"time [s]"}},
               "y":{"field":"lo","type":"quantitative","scale":{"domain":[0,0.8],"nice":false},"axis":{"values":[0,0.1,0.2,0.3,0.4,0.5,0.6,0.7,0.8],"format":".1f","title":"angular velocity norm [rad]"}},
               "y2":{"field":"hi"}}},
  {"data":{"name":"botRed"},"mark":{"type":"line","color":"#ff0000","strokeWidth":1.2},
   "encoding":{"x":{"field":"t","type":"quantitative","axis":{"orient":"top","values":[0,10,20,30,40,50,60],"labels":false,"title":null}},
               "y":{"field":"v","type":"quantitative","axis":{"orient":"right","values":[0,0.1,0.2,0.3,0.4,0.5,0.6,0.7,0.8],"labels":false,"title":null}}}}
 ],
 "resolve":{"axis":{"x":"independent","y":"independent"}}
}
]
}
